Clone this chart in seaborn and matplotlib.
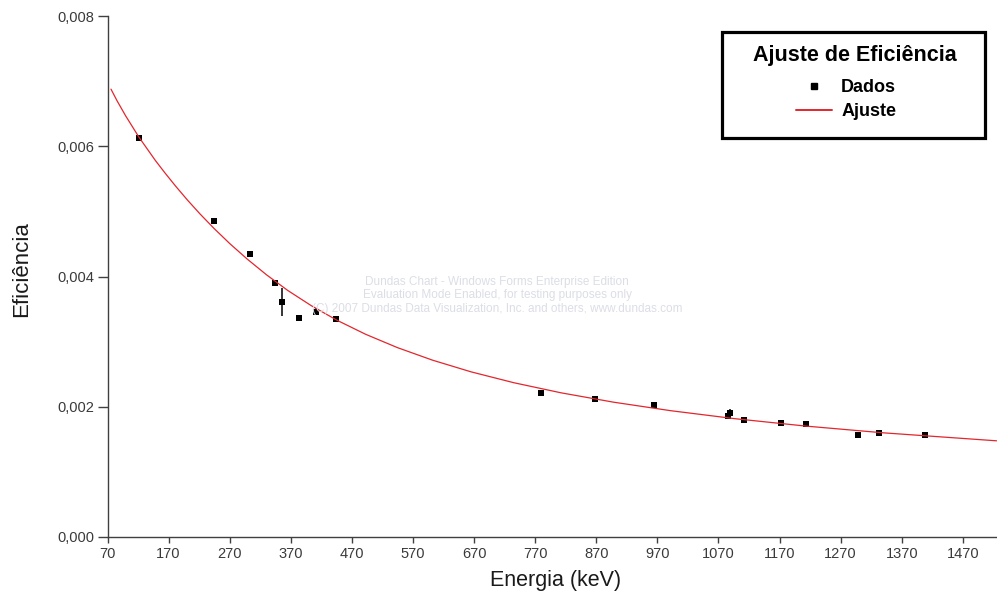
import matplotlib
matplotlib.use("Agg")
import matplotlib.pyplot as plt
import numpy as np
import pandas as pd
import seaborn as sns
from matplotlib.patches import Rectangle
from matplotlib.lines import Line2D

# ---- data ----
energy = [121.8, 244.8, 302.9, 344.3, 356.0, 383.9, 411.1, 444.0, 778.9, 867.4,
          964.1, 1085.8, 1089.7, 1112.1, 1173.2, 1213.0, 1299.1, 1332.5, 1408.0]
efficiency = [0.006124, 0.004854, 0.004347, 0.003902, 0.003610, 0.003360, 0.003460,
              0.003344, 0.002212, 0.002115, 0.002023, 0.001859, 0.001910, 0.001802,
              0.001756, 0.001740, 0.001571, 0.001598, 0.001567]
efficiency_err = [0, 0, 0, 0, 0.000215, 0, 0.00005, 0, 0, 0,
                  0, 0, 0.00005, 0, 0, 0.00004, 0, 0, 0]

# fitted curve
fit_energy = [75.7, 85.6, 99.5, 121.5, 148.4, 164.0, 181.3, 200.3, 221.4, 244.7,
              270.4, 298.9, 330.3, 365.0, 403.4, 445.9, 492.7, 544.6, 601.8, 665.1,
              735.1, 812.4, 897.8, 992.3, 1096.6, 1212.0, 1339.4, 1525.3]
fit_efficiency = [0.006877, 0.006699, 0.006470, 0.006139, 0.005781, 0.005591, 0.005390,
                  0.005180, 0.004961, 0.004735, 0.004503, 0.004266, 0.004026, 0.003786,
                  0.003553, 0.003327, 0.003112, 0.002908, 0.002716, 0.002536, 0.002369,
                  0.002214, 0.002071, 0.001939, 0.001817, 0.001704, 0.001600, 0.001477]

x_ticks = [70, 170, 270, 370, 470, 570, 670, 770, 870, 970, 1070, 1170, 1270, 1370, 1470]
y_ticks = [0.000, 0.002, 0.004, 0.006, 0.008]
y_tick_labels = ["0,000", "0,002", "0,004", "0,006", "0,008"]

title_text = "Ajuste de Eficiência"
series_labels = ["Dados", "Ajuste"]
x_label = "Energia (keV)"
y_label = "Eficiência"
watermark = ("Dundas Chart - Windows Forms Enterprise Edition\n"
             "Evaluation Mode Enabled, for testing purposes only\n"
             "(C) 2007 Dundas Data Visualization, Inc. and others, www.dundas.com")

# ---- style ----
sns.set_theme(style="white")
plt.rcParams['font.family'] = ['Liberation Sans', 'DejaVu Sans']

W, H = 997, 600
fig = plt.figure(figsize=(W / 100, H / 100), dpi=100)
fig.patch.set_facecolor("white")
left_px, right_px, top_px, bottom_px = 107.5, 997, 16, 537
ax = fig.add_axes([left_px / W, 1 - bottom_px / H,
                   (right_px - left_px) / W, (bottom_px - top_px) / H])
ax.set_facecolor("white")

red = "#e3262d"
data = pd.DataFrame({"Energia": energy, "Eficiencia": efficiency})
fit = pd.DataFrame({"Energia": fit_energy, "Eficiencia": fit_efficiency})

ax.errorbar(energy, efficiency, yerr=efficiency_err, fmt="none",
            ecolor="black", elinewidth=1.1, capsize=0, zorder=2)
sns.scatterplot(data=data, x="Energia", y="Eficiencia", marker="s", s=22,
                color="black", edgecolor="black", linewidth=0, ax=ax, zorder=3)
sns.lineplot(data=fit, x="Energia", y="Eficiencia", sort=False, estimator=None,
             color=red, linewidth=0.9, ax=ax, zorder=4)

ax.set_xlim(70, 1526)
ax.set_ylim(0, 0.008)
ax.set_xticks(x_ticks)
ax.set_xticklabels([str(t) for t in x_ticks])
ax.set_yticks(y_ticks)
ax.set_yticklabels(y_tick_labels)

for s in ["top", "right"]:
    ax.spines[s].set_visible(False)
for s in ["left", "bottom"]:
    ax.spines[s].set_color("#404040")
    ax.spines[s].set_linewidth(1.0)

ax.tick_params(axis="x", direction="out", length=4, width=1.0, color="#404040",
               labelsize=10.5, labelcolor="#3a3a3a", pad=3, bottom=True)
ax.tick_params(axis="y", direction="out", length=7, width=1.0, color="#404040",
               labelsize=10.5, labelcolor="#3a3a3a", pad=2.5, left=True)

ax.set_xlabel(x_label, fontsize=15.5, color="#1a1a1a")
ax.set_ylabel(y_label, fontsize=16, color="#1a1a1a")
ax.xaxis.set_label_coords((556 - left_px) / (right_px - left_px), -0.064)
ax.yaxis.set_label_coords((32 - left_px) / (right_px - left_px), 0.515)

# watermark
fig.text(497 / W, 1 - 295.5 / H, watermark, ha="center", va="center",
         multialignment="center", fontsize=8.5, color="#dcdee6", linespacing=1.2,
         zorder=1)

# legend box
bx0, bx1, by0, by1 = 721.7, 985, 31.7, 138
rect = Rectangle((bx0 / W, 1 - by1 / H), (bx1 - bx0) / W, (by1 - by0) / H,
                 transform=fig.transFigure, facecolor="white", edgecolor="black",
                 linewidth=2.3, zorder=5)
fig.add_artist(rect)
fig.text(855 / W, 1 - 55.5 / H, title_text, ha="center", va="center",
         fontsize=15.5, fontweight="bold", color="black", zorder=6)
handles = [Line2D([], [], marker="s", linestyle="none", color="black", markersize=3.8),
           Line2D([], [], color=red, linewidth=1.4)]
leg = fig.legend(handles, series_labels, loc="center",
                 bbox_to_anchor=(846 / W, 1 - 99.5 / H),
                 frameon=False, prop={"weight": "bold", "size": 13},
                 labelcolor="black",
                 handlelength=2.0, handletextpad=0.5, labelspacing=0.4,
                 borderaxespad=0, borderpad=0)
leg.set_zorder(6)

fig.savefig("out.png", dpi=100, facecolor="white")
